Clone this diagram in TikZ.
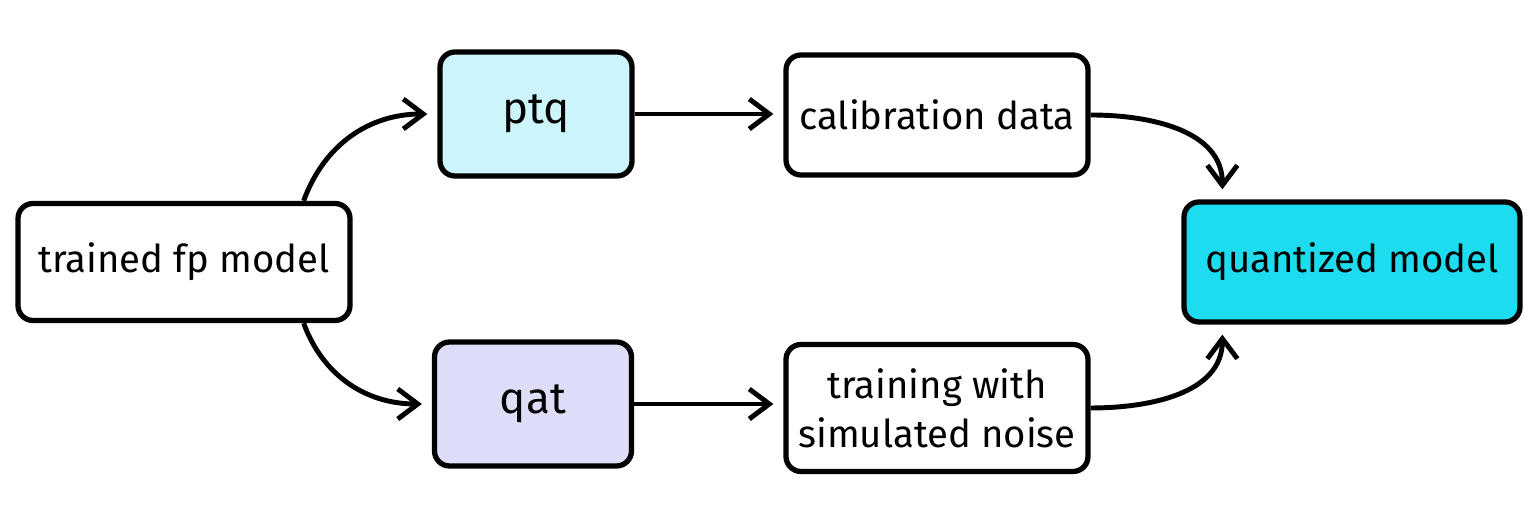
\documentclass[tikz,border=0pt]{standalone}
\usepackage{fontspec}
\setmainfont{Fira Sans}
\usetikzlibrary{arrows.meta}

\tikzset{
  stage/.style={draw=black,line width=3pt,rounded corners=0.3cm,
    align=center,font=\fontsize{21.8}{28}\selectfont,inner sep=0pt},
  bigstage/.style={stage,font=\fontsize{25}{30}\selectfont},
  flow/.style={line width=2.8pt,-{Straight Barb[length=4mm,width=6mm,line width=2.8pt]}}
}

\begin{document}
\begin{tikzpicture}
    \useasboundingbox[fill=white] (0,0) rectangle (30.72,10.52);
    \node[stage,fill=white,minimum width=6.64cm,minimum height=2.34cm] (trained) at (3.68,5.28) {trained fp model};
    \node[bigstage,fill={rgb,255:red,204;green,245;blue,251},minimum width=3.84cm,minimum height=2.48cm] (ptq) at (10.72,8.24) {ptq};
    \node[stage,fill=white,minimum width=6.04cm,minimum height=2.4cm] (calib) at (18.74,8.22) {calibration data};
    \node[bigstage,fill={rgb,255:red,221;green,221;blue,248},minimum width=3.94cm,minimum height=2.48cm] (qat) at (10.66,2.44) {qat};
    \node[stage,fill=white,minimum width=6.04cm,minimum height=2.54cm] (noise) at (18.74,2.36) {training with\\simulated noise};
    \node[stage,fill={rgb,255:red,30;green,220;blue,240},minimum width=6.72cm,minimum height=2.4cm] (quant) at (27.04,5.28) {quantized model};
    \draw[flow] ([xshift=-0.98cm]trained.north east) to[out=70,in=180] ([xshift=-0.2cm]ptq.west);
    \draw[flow] ([xshift=-0.98cm]trained.south east) to[out=-70,in=180] ([xshift=-0.2cm]qat.west);
    \draw[flow] (ptq.east) -- ([xshift=-0.2cm]calib.west |- ptq.east);
    \draw[flow] (qat.east) -- ([xshift=-0.2cm]noise.west |- qat.east);
    \draw[flow] (calib.east) to[out=0,in=90] ([xshift=0.82cm,yshift=0.2cm]quant.north west);
    \draw[flow] (noise.east) to[out=0,in=-90] ([xshift=0.82cm,yshift=-0.2cm]quant.south west);
  \end{tikzpicture}
\end{document}
